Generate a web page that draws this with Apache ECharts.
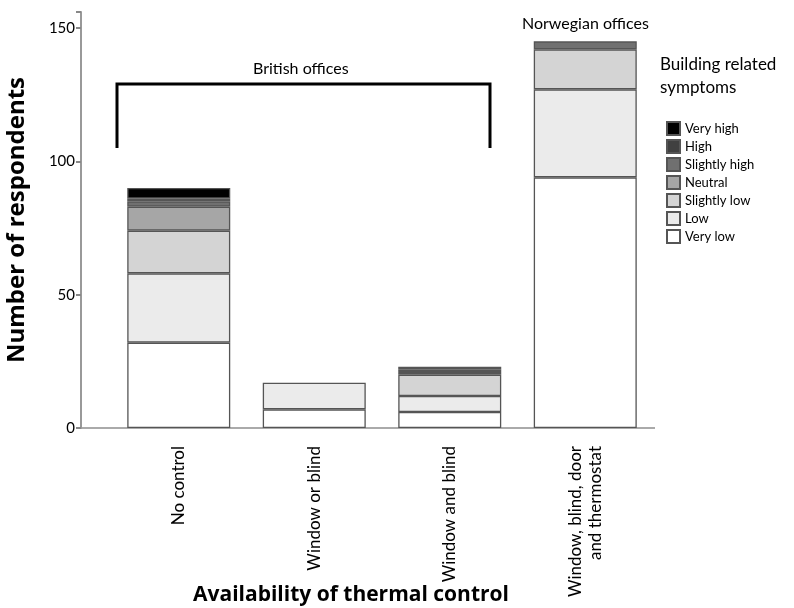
<!DOCTYPE html>
<html>
<head>
<meta charset="utf-8">
<script src="https://cdn.jsdelivr.net/npm/echarts@6/dist/echarts.min.js"></script>
<style>
  html, body { margin: 0; padding: 0; background: #fff; }
  #chart { width: 794px; height: 608px; }
</style>
</head>
<body>
<div id="chart"></div>
<script>
var categories = ["No control", "Window or blind", "Window and blind", "Window, blind, door\nand thermostat"];
var levels = ["Very low", "Low", "Slightly low", "Neutral", "Slightly high", "High", "Very high"];
// respondents per level, one array per level, same order as categories
var veryLow = [32, 7, 6, 94];
var low = [26, 10, 6, 33];
var slightlyLow = [16, 0, 8, 15];
var neutral = [9, 0, 0, 0];
var slightlyHigh = [2, 0, 1, 3];
var high = [1, 0, 1, 0];
var veryHigh = [4, 0, 1, 0];
var yTicks = [0, 50, 100, 150];

var levelValues = [veryLow, low, slightlyLow, neutral, slightlyHigh, high, veryHigh];
var fills = ["#ffffff", "#ebebeb", "#d4d4d4", "#a6a6a6", "#707070", "#404040", "#000000"];
var font = "Lato, 'Open Sans', sans-serif";
var titleFont = "'Open Sans', Lato, sans-serif";

var series = levels.map(function (name, i) {
  return {
    name: name,
    type: "bar",
    stack: "brs",
    barWidth: 103,
    itemStyle: { color: fills[i], borderColor: "#555", borderWidth: 1.3 },
    data: levelValues[i].map(function (v) { return v === 0 ? null : v; }),
  };
});

var myChart = echarts.init(document.getElementById("chart"));
myChart.setOption({
  animation: false,
  grid: { left: 111, right: 141, top: 12, bottom: 180, outerBoundsMode: "none", containLabel: false },
  legend: {
    data: levels.slice().reverse(),
    orient: "vertical",
    left: 661,
    top: 116,
    itemWidth: 13,
    itemHeight: 13,
    itemGap: 3,
    padding: 5,
    icon: "rect",
    textStyle: { fontFamily: font, fontSize: 13, lineHeight: 13, color: "#000" },
  },
  xAxis: {
    type: "category",
    data: categories,
    axisLine: { lineStyle: { color: "#aaa", width: 2 } },
    axisTick: { alignWithLabel: true, length: 6, lineStyle: { color: "#888", width: 2 } },
    axisLabel: { rotate: 90, margin: 18, fontFamily: font, fontSize: 17, color: "#000", lineHeight: 20 },
    name: "Availability of thermal control",
    nameLocation: "middle",
    nameGap: 157,
    nameMoveOverlap: false,
    nameTextStyle: { fontFamily: titleFont, fontSize: 21, fontWeight: "bold", color: "#000", padding: [0, 62, 0, 0] },
  },
  yAxis: {
    type: "value",
    min: 0,
    max: 156,
    interval: 50,
    offset: 30,
    splitLine: { show: false },
    axisLine: { show: true, lineStyle: { color: "#999", width: 2 } },
    axisTick: { show: true, length: 5, lineStyle: { color: "#888", width: 2 } },
    axisLabel: {
      fontFamily: font, fontSize: 15, color: "#000", margin: 6,
      formatter: function (v) { return yTicks.indexOf(v) >= 0 ? String(v) : ""; },
    },
    name: "Number of respondents",
    nameLocation: "middle",
    nameGap: 52,
    nameMoveOverlap: false,
    nameTextStyle: { fontFamily: titleFont, fontSize: 24, fontWeight: "bold", color: "#000", padding: [0, 0, 0, 0] },
  },
  series: series,
  graphic: [
    { type: "line", shape: { x1: 81, y1: 428, x2: 655, y2: 428 }, style: { stroke: "#aaa", lineWidth: 2 }, z: 0 },
    { type: "polyline", shape: { points: [[117, 148], [117, 84], [490, 84], [490, 148]] }, style: { stroke: "#000", lineWidth: 3, fill: null } },
    { type: "text", left: 253, top: 61, style: { text: "British offices", font: "16px " + font, fill: "#000" } },
    { type: "text", left: 522, top: 16, style: { text: "Norwegian offices", font: "16px " + font, fill: "#000" } },
    { type: "text", left: 660, top: 53, style: { text: "Building related\nsymptoms", font: "17px " + font, lineHeight: 23, fill: "#000" } },
  ],
});
window.addEventListener("resize", function () {
  myChart.resize();
});
</script>
</body>
</html>
